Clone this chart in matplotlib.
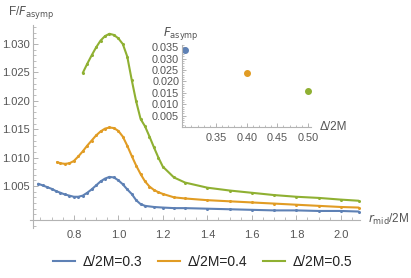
import matplotlib
matplotlib.use("Agg")
import matplotlib.pyplot as plt
from matplotlib.ticker import MultipleLocator, FixedLocator
from matplotlib.lines import Line2D

plt.rcParams['font.family'] = ['Liberation Sans', 'DejaVu Sans']

# ---- data ----
x_03 = [0.64, 0.66, 0.68, 0.70, 0.72, 0.74, 0.76, 0.78, 0.80, 0.82, 0.84, 0.86, 0.88, 0.90,
        0.92, 0.94, 0.96, 0.98, 1.00, 1.02, 1.04, 1.06, 1.08, 1.10, 1.12, 1.16, 1.20, 1.25,
        1.30, 1.40, 1.50, 1.60, 1.70, 1.80, 1.90, 2.00, 2.08]
y_03 = [1.0054, 1.0051, 1.0048, 1.0045, 1.0041, 1.0038, 1.0035, 1.0033, 1.0031, 1.0031, 1.0033,
        1.0038, 1.0044, 1.0051, 1.0058, 1.0063, 1.0066, 1.0065, 1.0060, 1.0053, 1.0044, 1.0036,
        1.0025, 1.0018, 1.0015, 1.0013, 1.0012, 1.0011, 1.0011, 1.0010, 1.0009, 1.0008, 1.0007,
        1.0007, 1.0006, 1.0006, 1.0005]

x_04 = [0.725, 0.74, 0.76, 0.78, 0.80, 0.82, 0.84, 0.86, 0.88, 0.90, 0.92, 0.94, 0.96, 0.98,
        1.00, 1.02, 1.04, 1.06, 1.08, 1.10, 1.12, 1.14, 1.16, 1.18, 1.20, 1.25, 1.30, 1.40,
        1.50, 1.60, 1.70, 1.80, 1.90, 2.00, 2.08]
y_04 = [1.0092, 1.0090, 1.0089, 1.0090, 1.0094, 1.0102, 1.0111, 1.0121, 1.0130, 1.0139, 1.0146,
        1.0151, 1.0153, 1.0152, 1.0147, 1.0137, 1.0121, 1.0103, 1.0086, 1.0071, 1.0058, 1.0049,
        1.0043, 1.0039, 1.0036, 1.0030, 1.0028, 1.0025, 1.0023, 1.0021, 1.0019, 1.0017, 1.0015,
        1.0013, 1.0012]

x_05 = [0.84, 0.86, 0.88, 0.90, 0.92, 0.94, 0.96, 0.98, 1.00, 1.02, 1.04, 1.06, 1.08, 1.10,
        1.12, 1.14, 1.16, 1.18, 1.20, 1.25, 1.30, 1.40, 1.50, 1.60, 1.70, 1.80, 1.90, 2.00, 2.08]
y_05 = [1.0249, 1.0265, 1.0280, 1.0294, 1.0306, 1.0314, 1.0318, 1.0316, 1.0310, 1.0300, 1.0278,
        1.0237, 1.0199, 1.0168, 1.0155, 1.0137, 1.0118, 1.0100, 1.0084, 1.0065, 1.0056, 1.0047,
        1.0042, 1.0038, 1.0034, 1.0031, 1.0029, 1.0026, 1.0024]

delta = [0.3, 0.4, 0.5]
f_asymp = [0.0337, 0.0237, 0.0159]

labels = ['Δ/2M=0.3', 'Δ/2M=0.4', 'Δ/2M=0.5']
colors = ['#5E81B5', '#E19C24', '#8FB032']

main_yticks = [1.005, 1.010, 1.015, 1.020, 1.025, 1.030]
main_xticks = [0.8, 1.0, 1.2, 1.4, 1.6, 1.8, 2.0]
inset_xticks = [0.35, 0.40, 0.45, 0.50]
inset_yticks = [0.005, 0.010, 0.015, 0.020, 0.025, 0.030, 0.035]

W, H = 411, 278
fig = plt.figure(figsize=(W / 100, H / 100), dpi=100)

axcol = '#b3b3b3'
tcol = '#555555'

def rect(l, t, r, b):
    return [l / W, (H - b) / H, (r - l) / W, (b - t) / H]

# ---- main axes ----
ax = fig.add_axes(rect(30, 25, 360, 228))
for xs, ys, c, lab in zip([x_03, x_04, x_05], [y_03, y_04, y_05], colors, labels):
    ax.plot(xs, ys, color=c, lw=1.5, marker='o', ms=1.2, mec=c, mfc=c, label=lab,
            solid_capstyle='round')
ax.set_xlim(0.603, 2.086)
ax.set_ylim(0.9976, 1.03335)
ax.spines['top'].set_visible(False)
ax.spines['right'].set_visible(False)
ax.spines['left'].set_position(('data', 0.615))
ax.spines['bottom'].set_position(('data', 0.99901))
for s in ('left', 'bottom'):
    ax.spines[s].set_color(axcol)
    ax.spines[s].set_linewidth(0.8)
ax.xaxis.set_major_locator(FixedLocator(main_xticks))
ax.xaxis.set_minor_locator(MultipleLocator(0.05))
ax.yaxis.set_major_locator(FixedLocator(main_yticks))
ax.yaxis.set_minor_locator(MultipleLocator(0.001))
ax.set_yticklabels(['%.3f' % v for v in main_yticks])
ax.set_xticklabels(['%.1f' % v for v in main_xticks])
ax.tick_params(which='major', direction='in', length=3.5, width=0.7, color=axcol,
               labelsize=8, labelcolor=tcol)
ax.tick_params(which='minor', direction='in', length=2, width=0.6, color=axcol)
ax.tick_params(axis='x', which='major', pad=7)
ax.tick_params(axis='y', which='major', pad=2)
ax.patch.set_alpha(0)

fig.text(8 / W, 1 - 13 / H, r'F/$F_{\mathrm{asymp}}$', fontsize=8.5, color=tcol,
         ha='left', va='center')
fig.text(368 / W, 1 - 219 / H, r'$r_{\mathrm{mid}}$/2M', fontsize=8.5, color=tcol,
         ha='left', va='center')

# ---- inset ----
axi = fig.add_axes(rect(182, 45, 311, 127))
for d, f, c in zip(delta, f_asymp, colors):
    axi.plot([d], [f], 'o', color=c, ms=4)
axi.set_xlim(0.2945, 0.505)
axi.set_ylim(0.0, 0.036)
axi.spines['top'].set_visible(False)
axi.spines['right'].set_visible(False)
for s in ('left', 'bottom'):
    axi.spines[s].set_color(axcol)
    axi.spines[s].set_linewidth(0.8)
axi.xaxis.set_major_locator(FixedLocator(inset_xticks))
axi.xaxis.set_minor_locator(MultipleLocator(0.01))
axi.yaxis.set_major_locator(FixedLocator(inset_yticks))
axi.yaxis.set_minor_locator(MultipleLocator(0.001))
axi.set_xticklabels(['%.2f' % v for v in inset_xticks])
axi.set_yticklabels(['%.3f' % v for v in inset_yticks])
axi.tick_params(which='major', direction='in', length=3, width=0.7, color=axcol,
                labelsize=7.8, labelcolor=tcol)
axi.tick_params(which='minor', direction='in', length=1.5, width=0.6, color=axcol)
axi.tick_params(axis='x', which='major', pad=4)
axi.tick_params(axis='y', which='major', pad=2)
axi.patch.set_alpha(0)

fig.text(181 / W, 1 - 33 / H, r'$F_{\mathrm{asymp}}$', fontsize=8.5, color=tcol,
         ha='center', va='center')
fig.text(320 / W, 1 - 127 / H, 'Δ/2M', fontsize=8.5, color=tcol,
         ha='left', va='center')

# ---- legend ----
hs = [Line2D([], [], color=c, lw=1.5) for c in colors]
fig.legend(hs, labels, loc='center', bbox_to_anchor=(0.493, 16 / H), ncol=3,
           frameon=False, fontsize=10, handlelength=1.6, handletextpad=0.55,
           columnspacing=1.1, labelcolor='#222222')

fig.savefig('out.png', dpi=100)
